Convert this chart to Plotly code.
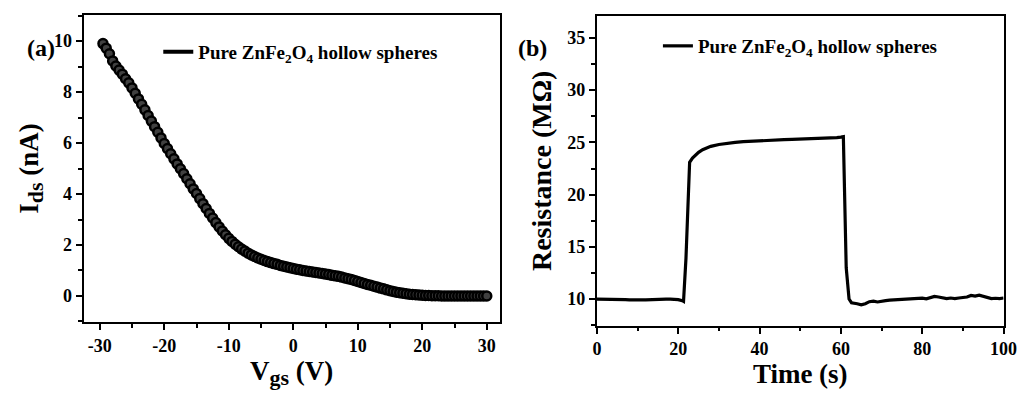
import plotly.graph_objects as go

# Panel (a): transfer curve
vgs = [-29.5, -29.0, -28.5, -28.0, -27.5, -27.0, -26.5, -26.0, -25.5, -25.0,
       -24.5, -24.0, -23.5, -23.0, -22.5, -22.0, -21.5, -21.0, -20.5, -20.0,
       -19.5, -19.0, -18.5, -18.0, -17.5, -17.0, -16.5, -16.0, -15.5, -15.0,
       -14.5, -14.0, -13.5, -13.0, -12.5, -12.0, -11.5, -11.0, -10.5, -10.0,
       -9.5, -9.0, -8.5, -8.0, -7.5, -7.0, -6.5, -6.0, -5.5, -5.0,
       -4.5, -4.0, -3.5, -3.0, -2.5, -2.0, -1.5, -1.0, -0.5, 0.0,
       0.5, 1.0, 1.5, 2.0, 2.5, 3.0, 3.5, 4.0, 4.5, 5.0,
       5.5, 6.0, 6.5, 7.0, 7.5, 8.0, 8.5, 9.0, 9.5, 10.0,
       10.5, 11.0, 11.5, 12.0, 12.5, 13.0, 13.5, 14.0, 14.5, 15.0,
       15.5, 16.0, 16.5, 17.0, 17.5, 18.0, 18.5, 19.0, 19.5, 20.0,
       20.5, 21.0, 21.5, 22.0, 22.5, 23.0, 23.5, 24.0, 24.5, 25.0,
       25.5, 26.0, 26.5, 27.0, 27.5, 28.0, 28.5, 29.0, 29.5, 30.0]
ids = [9.90, 9.72, 9.50, 9.22, 9.02, 8.86, 8.70, 8.52, 8.36, 8.16,
       7.95, 7.73, 7.52, 7.30, 7.08, 6.86, 6.64, 6.42, 6.20, 5.98,
       5.78, 5.58, 5.38, 5.18, 4.99, 4.80, 4.60, 4.40, 4.20, 4.02,
       3.82, 3.62, 3.43, 3.24, 3.06, 2.88, 2.71, 2.55, 2.40, 2.26,
       2.14, 2.03, 1.93, 1.84, 1.76, 1.68, 1.61, 1.55, 1.49, 1.44,
       1.39, 1.35, 1.31, 1.27, 1.24, 1.20, 1.17, 1.14, 1.11, 1.08,
       1.05, 1.03, 1.00, 0.98, 0.96, 0.94, 0.92, 0.90, 0.88, 0.86,
       0.84, 0.81, 0.79, 0.77, 0.74, 0.71, 0.68, 0.65, 0.61, 0.57,
       0.53, 0.49, 0.45, 0.42, 0.38, 0.35, 0.31, 0.28, 0.24, 0.21,
       0.18, 0.15, 0.13, 0.11, 0.09, 0.07, 0.06, 0.05, 0.04, 0.03,
       0.02, 0.02, 0.01, 0.01, 0.01, 0.00, 0.00, 0.00, 0.00, 0.00,
       0.00, 0.00, 0.00, 0.00, 0.00, 0.00, 0.00, 0.00, 0.00, 0.00]
vgs_ticks = [-30, -20, -10, 0, 10, 20, 30]
vgs_ticktext = ["-30", "-20", "-10", "0", "10", "20", "30"]

# Panel (b): response curve
time_s = [0, 1, 2, 3, 4, 5, 6, 7, 8, 9, 10, 11, 12, 13, 14, 15, 16, 17, 18, 19, 20,
          21, 21.3, 21.9, 22.8, 23.5, 24, 25, 26, 27, 28, 30, 32, 34, 36, 38, 40,
          42, 44, 46, 48, 50, 52, 54, 56, 58, 59, 60, 60.6, 61.3, 62, 62.6,
          63, 64, 65, 66, 67, 68, 69, 70, 71, 72, 73, 74, 75, 76, 77, 78, 79, 80,
          81, 82, 83, 84, 85, 86, 87, 88, 89, 90, 91, 92, 93, 94, 95, 96, 97, 98, 99, 100]
resistance = [10.0, 10.0, 10.0, 10.0, 10.0, 10.02, 9.98, 9.95, 9.93, 9.95, 9.95,
              9.93, 9.92, 9.95, 9.98, 10.0, 10.0, 10.0, 10.0, 9.98, 9.95,
              9.85, 9.78, 13.9, 23.1, 23.5, 23.7, 24.05, 24.3, 24.5, 24.62, 24.8,
              24.92, 25.0, 25.07, 25.12, 25.17, 25.2, 25.23, 25.26, 25.28, 25.3,
              25.32, 25.34, 25.38, 25.42, 25.45, 25.5, 25.55, 13.0, 10.0, 9.65,
              9.6, 9.55, 9.45, 9.55, 9.75, 9.8, 9.72, 9.75, 9.85, 9.9, 9.92, 9.95,
              9.98, 9.95, 9.98, 10.05, 10.05, 10.08, 10.02, 10.1, 10.25, 10.2,
              10.1, 10.05, 10.1, 10.05, 10.1, 10.15, 10.2, 10.35, 10.28, 10.38,
              10.25, 10.1, 10.05, 10.08, 10.05, 10.1]

legend_label = "Pure ZnFe<sub>2</sub>O<sub>4</sub> hollow spheres"

FONT = "Liberation Serif"
W = 1031
PH = 392
SX = 1.012  # horizontal correction for the page capture


def xd(a, b):
    return [a * SX / W, b * SX / W]


def yd(top, bottom):
    return [1 - bottom / PH, 1 - top / PH]


fig = go.Figure()

fig.add_trace(go.Scatter(
    x=vgs, y=ids, mode="markers", showlegend=False,
    marker=dict(symbol="circle", size=9, color="#404040",
                line=dict(color="black", width=2.5)),
    xaxis="x", yaxis="y"))
fig.add_trace(go.Scatter(
    x=[None], y=[None], mode="lines", name=legend_label,
    line=dict(color="black", width=4), xaxis="x", yaxis="y", legend="legend"))

fig.add_trace(go.Scatter(
    x=time_s, y=resistance, mode="lines", name=legend_label,
    line=dict(color="black", width=3.2), xaxis="x2", yaxis="y2", legend="legend2"))


def axis_style(rng, dtick, minor_dtick, domain, anchor, title, standoff, tsize=27):
    return dict(
        range=rng, domain=domain, anchor=anchor, dtick=dtick,
        showline=True, mirror=True, linecolor="black", linewidth=2,
        ticks="outside", ticklen=6, tickwidth=2, tickcolor="black",
        minor=dict(ticks="outside", ticklen=3.5, tickwidth=1.5, tickcolor="black", dtick=minor_dtick),
        showgrid=False, zeroline=False,
        tickfont=dict(family=FONT, size=18, color="black", weight="bold"),
        title=dict(text=title, font=dict(family=FONT, size=tsize, color="black", weight="bold"),
                   standoff=standoff),
    )


xa = axis_style([-32.5, 32], 10, 5, xd(80, 498), "y",
                "V<sub><span style='font-size:22px'>gs</span></sub> (V)", 3)
xa.update(tickmode="array", tickvals=vgs_ticks, ticktext=vgs_ticktext)
ya = axis_style([-1.02, 11.02], 2, 1, yd(15, 322), "x",
                "I<sub><span style='font-size:22px'>ds</span></sub> (nA)", 8)
xb = axis_style([0, 100], 20, 10, xd(595.7, 1004.3), "y2", "Time (s)", 6)
yb = axis_style([7.45, 37.1], 5, 2.5, yd(16, 325.7), "x2",
                "Resistance (MΩ)\u00a0\u00a0\u00a0\u00a0\u00a0", 8, tsize=28)

fig.update_layout(
    width=W, height=PH,
    margin=dict(l=0, r=0, t=0, b=0),
    paper_bgcolor="white", plot_bgcolor="white",
    font=dict(family=FONT, color="black"),
    xaxis=xa, yaxis=ya, xaxis2=xb, yaxis2=yb,
    legend=dict(x=155 * SX / W, y=1 - 33 / PH, xanchor="left", yanchor="top",
                bgcolor="rgba(0,0,0,0)", borderwidth=0,
                font=dict(family=FONT, size=19, color="black", weight="bold")),
    legend2=dict(x=657 * SX / W, y=1 - 27 / PH, xanchor="left", yanchor="top",
                 bgcolor="rgba(0,0,0,0)", borderwidth=0,
                 font=dict(family=FONT, size=19, color="black", weight="bold")),
    annotations=[
        dict(text="(a)", x=21 * SX / W, y=1 - 33 / PH, xref="paper", yref="paper",
             showarrow=False, font=dict(family=FONT, size=24, color="black", weight="bold")),
        dict(text="(b)", x=531 * SX / W, y=1 - 33 / PH, xref="paper", yref="paper",
             showarrow=False, font=dict(family=FONT, size=24, color="black", weight="bold")),
    ],
)

fig.write_html("out.html")
